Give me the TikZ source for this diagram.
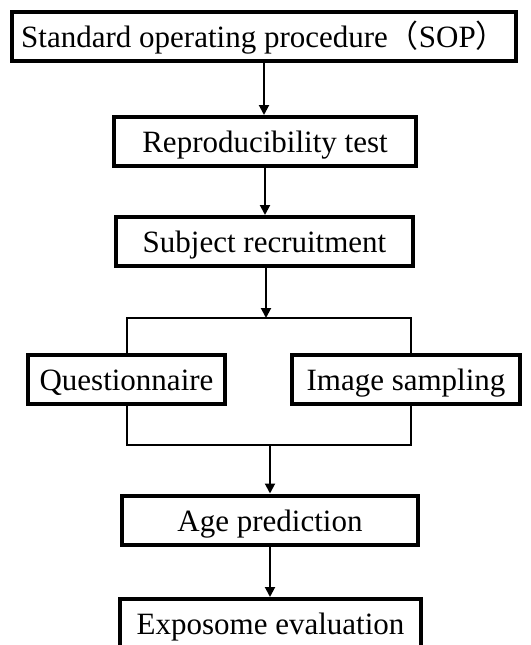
\documentclass[tikz,border=0pt]{standalone}
\usepackage{fontspec}
\setmainfont{Liberation Serif}
\newfontfamily\cjk{Noto Sans CJK SC}
\usetikzlibrary{arrows.meta}

\begin{document}
\begin{tikzpicture}[x=1pt, y=-1pt,
    stagebox/.style={draw, rectangle, line width=4pt, inner sep=0pt, minimum height=49pt,
        text height=22pt, text depth=0pt, font=\fontsize{31}{37}\selectfont},
    link/.style={line width=2pt},
    flow/.style={line width=2pt, -{Triangle[length=10pt, width=10pt]}}]
    \useasboundingbox (0,0) rectangle (530,645);

    % Study stages
    \node[stagebox, minimum width=504pt] (sop) at (264,36.5) {Standard operating procedure{\cjk （}SOP{\cjk ）}};
    \node[stagebox, minimum width=302pt] (repro) at (265,141.5) {Reproducibility test};
    \node[stagebox, minimum width=297pt] (subj) at (264.5,241.5) {Subject recruitment};

    % Parallel data collection
    \node[stagebox, minimum width=197pt] (quest) at (126.5,379.5) {Questionnaire};
    \node[stagebox, minimum width=228pt] (image) at (406,379.5) {Image sampling};

    % Analysis
    \node[stagebox, minimum width=296pt] (age) at (270,520) {Age prediction};
    \node[stagebox, minimum width=301pt] (expo) at (270.5,623.5) {Exposome evaluation};

    % Split and merge points
    \coordinate (split) at (266,318);
    \coordinate (merge) at (270,445);

    % Arrows
    \draw[flow] (sop.south) -- (sop.south |- repro.north);
    \draw[flow] (repro.south) -- (repro.south |- subj.north);
    \draw[flow] (split |- subj.south) -- (split);
    \draw[link] (quest.north) |- (split) -| ([xshift=5pt]image.north);
    \draw[link] (quest.south) |- (merge) -| ([xshift=5pt]image.south);
    \draw[flow] (merge) -- (merge |- age.north);
    \draw[flow] (age.south) -- (age.south |- expo.north);
\end{tikzpicture}
\end{document}
